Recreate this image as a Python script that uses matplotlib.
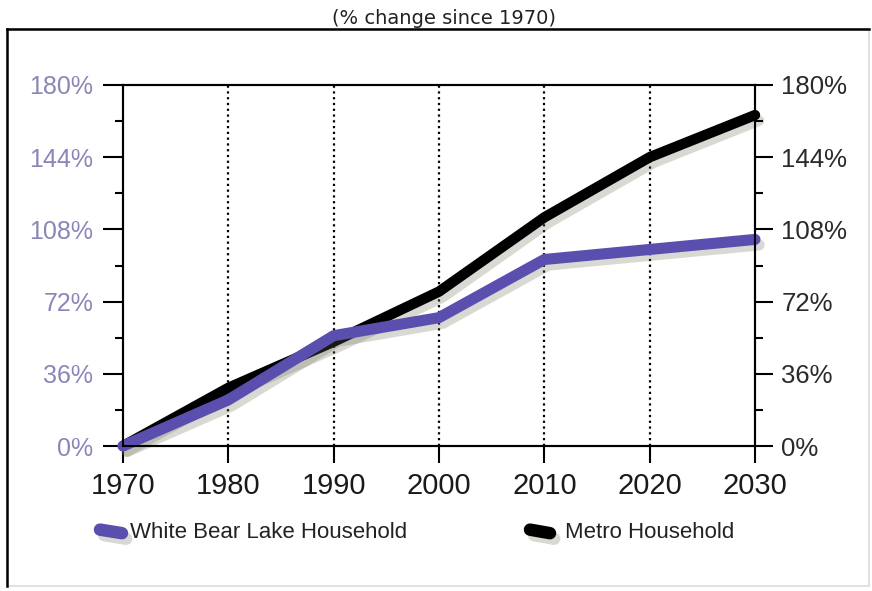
import matplotlib
matplotlib.use("Agg")
import matplotlib.pyplot as plt
import matplotlib.patheffects as pe
from matplotlib.lines import Line2D
from matplotlib.patches import Rectangle
from matplotlib.ticker import MultipleLocator

years = [1970, 1980, 1990, 2000, 2010, 2020, 2030]
white_bear_lake = [0, 23, 55, 64, 93, 98, 103]
metro = [0, 29, 52, 77, 114, 144, 165]
series_names = ["White Bear Lake Household", "Metro Household"]
y_ticks = [0, 36, 72, 108, 144, 180]
title = "(% change since 1970)"

W, H = 872, 591
fig = plt.figure(figsize=(W / 100, H / 100), dpi=100)
fig.patch.set_facecolor("white")

def fx(px):
    return px / W

def fy(py):
    return 1 - py / H

# outer frame: dark on top/left, pale on right/bottom
fig.add_artist(Rectangle((fx(7), fy(586)), fx(862), fy(29) - fy(586),
                         transform=fig.transFigure, fill=False,
                         edgecolor="#dcdcdc", lw=1.2))
fig.add_artist(Line2D([fx(7), fx(869)], [fy(29), fy(29)],
                      transform=fig.transFigure, color="black", lw=1.8))
fig.add_artist(Line2D([fx(7), fx(7)], [fy(29), fy(586)],
                      transform=fig.transFigure, color="black", lw=1.8))

fig.text(fx(444), fy(19), title, ha="center", va="center",
         fontsize=14, family="DejaVu Sans", color="#222222")

ax = fig.add_axes([fx(123), fy(446), fx(755) - fx(123), fy(85) - fy(446)])
ax.set_xlim(1970, 2030)
ax.set_ylim(0, 180)

purple = "#5a4fae"
shadow = [pe.SimpleLineShadow(offset=(3, -4), shadow_color="#6b6b55", alpha=0.25),
          pe.Normal()]

ax.plot(years, metro, color="black", lw=7.5, solid_capstyle="round",
        solid_joinstyle="round", clip_on=False, zorder=4, path_effects=shadow)
ax.plot(years, white_bear_lake, color=purple, lw=8, solid_capstyle="round",
        solid_joinstyle="round", clip_on=False, zorder=5, path_effects=shadow)

# dotted decade guides
for yr in years[1:-1]:
    ax.axvline(yr, color="black", lw=1.6, ls=(0, (1, 1.6)), zorder=1)

for s in ax.spines.values():
    s.set_linewidth(1.5)
    s.set_color("black")

ax.set_xticks(years)
ax.set_xticklabels([str(y) for y in years], fontsize=21,
                   family="Liberation Sans", color="#1a1a1a")
ax.tick_params(axis="x", direction="out", length=12, width=1.5, pad=7)

ax.set_yticks(y_ticks)
ax.yaxis.set_minor_locator(MultipleLocator(18))
ax.set_yticklabels([f"{v}%" for v in y_ticks], fontsize=18,
                   family="Liberation Sans", color="#8a86b8")
ax.tick_params(axis="y", which="major", direction="out", length=14.5,
               width=1.5, pad=7)
ax.tick_params(axis="y", which="minor", direction="out", length=6, width=1.5)

ax2 = ax.twinx()
ax2.set_ylim(0, 180)
ax2.set_yticks(y_ticks)
ax2.yaxis.set_minor_locator(MultipleLocator(18))
ax2.set_yticklabels([f"{v}%" for v in y_ticks], fontsize=18.5,
                    family="Liberation Sans", color="#2a2a2a")
ax2.tick_params(axis="y", which="major", direction="out", length=13,
                width=1.5, pad=6)
ax2.tick_params(axis="y", which="minor", direction="out", length=6, width=1.5)
for s in ax2.spines.values():
    s.set_linewidth(1.5)

# legend keys and labels
key_fx = [(fx(100), fx(122)), (fx(530), fx(550))]
key_colors = [purple, "black"]
label_x = [fx(130), fx(565)]
ly = fy(532)
for (x0, x1), c, tx, name in zip(key_fx, key_colors, label_x, series_names):
    fig.add_artist(Line2D([x0, x1], [ly + 0.004, ly - 0.002],
                          transform=fig.transFigure, color=c, lw=9,
                          solid_capstyle="round", path_effects=shadow))
    fig.text(tx, ly, name, ha="left", va="center", fontsize=16,
             family="Liberation Sans", color="#222222")

fig.savefig("out.png", dpi=100, facecolor="white")
